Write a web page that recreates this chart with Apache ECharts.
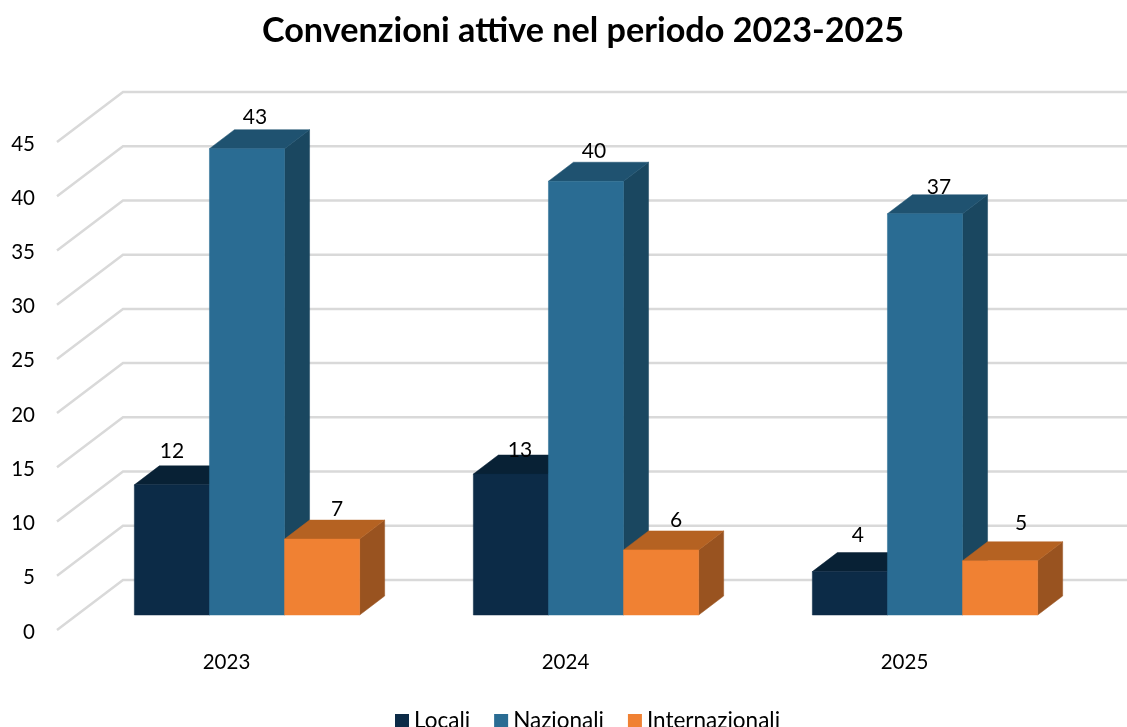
<!DOCTYPE html>
<html>
<head>
<meta charset="utf-8">
<style>html,body{margin:0;padding:0;background:#fff}#chart{width:1127px;height:727px}</style>
<script src="https://cdn.jsdelivr.net/npm/echarts@6/dist/echarts.min.js"></script>
</head>
<body>
<div id="chart"></div>
<script>
// Active agreements per year
const years = ['2023', '2024', '2025'];
const locali = [12, 13, 4];
const nazionali = [43, 40, 37];
const internazionali = [7, 6, 5];
const valueTicks = [0, 5, 10, 15, 20, 25, 30, 35, 40, 45];

// Hand-placed data labels: shift from the centre of each bar's front-top edge
const labelShiftLocali = [[0, -34], [9, -24], [8, -36]];
const labelShiftNazionali = [[8, -31], [8, -30], [14, -27]];
const labelShiftInternazionali = [[15, -30], [15, -30], [21, -38]];

// Oblique projection of the 3D box
const WALL_DX = 66, WALL_DY = -50;   // floor depth, front edge to back wall
const BAR_INSET_X = 20.5, BAR_INSET_Y = -15; // where the bars' front faces stand
const BAR_DX = 25, BAR_DY = -19;     // depth of a bar
const BAR_W = 75.1;
const FONT = 'Lato, Carlito, sans-serif';

function barRenderer(seriesIdx, faces, shifts) {
  return function (params, api) {
    const cat = api.value(0), val = api.value(1);
    const top = api.coord([cat, val]);
    const base = api.coord([cat, 0]);
    const x = top[0] + BAR_INSET_X + (seriesIdx - 1.5) * BAR_W;
    const yT = top[1] + BAR_INSET_Y;
    const yB = base[1] + BAR_INSET_Y;
    const xR = x + BAR_W;
    const poly = (pts, fill) => ({
      type: 'polygon',
      shape: { points: pts },
      style: { fill: fill, stroke: fill, lineWidth: 0.5 }
    });
    const s = shifts[cat];
    return {
      type: 'group',
      children: [
        poly([[xR, yB], [xR + BAR_DX, yB + BAR_DY], [xR + BAR_DX, yT + BAR_DY], [xR, yT]], faces.side),
        poly([[x, yT], [x + BAR_DX, yT + BAR_DY], [xR + BAR_DX, yT + BAR_DY], [xR, yT]], faces.top),
        poly([[x, yB], [xR, yB], [xR, yT], [x, yT]], faces.front),
        {
          type: 'text',
          z2: 50,
          style: {
            text: String(val),
            x: x + BAR_W / 2 + s[0],
            y: yT + s[1],
            fill: '#000',
            font: '21px ' + FONT,
            align: 'center',
            verticalAlign: 'middle'
          }
        }
      ]
    };
  };
}

function wallRenderer(params, api) {
  const tick = api.value(0);
  const band = api.size([1, 0])[0];
  const p = api.coord([0, tick]);
  const x0 = p[0] - band / 2;
  const y0 = p[1];
  return {
    type: 'polyline',
    shape: {
      points: [
        [x0, y0],
        [x0 + WALL_DX, y0 + WALL_DY],
        [x0 + band * years.length + WALL_DX, y0 + WALL_DY]
      ]
    },
    style: { fill: null, stroke: '#D9D9D9', lineWidth: 2.5 }
  };
}

const seriesDefs = [
  { name: 'Locali', data: locali, shifts: labelShiftLocali,
    faces: { front: '#0C2B47', top: '#082135', side: '#08202F' } },
  { name: 'Nazionali', data: nazionali, shifts: labelShiftNazionali,
    faces: { front: '#2A6C93', top: '#1F5270', side: '#1A4760' } },
  { name: 'Internazionali', data: internazionali, shifts: labelShiftInternazionali,
    faces: { front: '#F08133', top: '#B56222', side: '#995320' } }
];

const chart = echarts.init(document.getElementById('chart'), null, { renderer: 'canvas' });
chart.setOption({
  animation: false,
  backgroundColor: '#fff',
  title: {
    text: 'Convenzioni attive nel periodo 2023-2025',
    left: 578,
    top: 9,
    textAlign: 'center',
    textStyle: { fontFamily: FONT, fontWeight: 'bold', fontSize: 34.2, color: '#000' }
  },
  legend: {
    data: seriesDefs.map(s => s.name),
    left: 395,
    top: 709.5,
    icon: 'rect',
    itemWidth: 14,
    itemHeight: 14,
    itemGap: 24,
    padding: 0,
    textStyle: { fontFamily: FONT, fontSize: 22.5, color: '#000', padding: [0, 0, 0, 0] }
  },
  grid: { left: 57, right: 53, top: 142, bottom: 97 },
  xAxis: {
    type: 'category',
    data: years,
    axisLine: { show: false },
    axisTick: { show: false },
    axisLabel: { fontFamily: FONT, fontSize: 20.5, color: '#000', margin: 22 }
  },
  yAxis: {
    type: 'value',
    min: 0,
    max: 45,
    interval: 5,
    splitLine: { show: false },
    axisLine: { show: false },
    axisTick: { show: false },
    axisLabel: {
      margin: 22,
      verticalAlignMinLabel: 'middle',
      verticalAlignMaxLabel: 'middle',
      formatter: '{v|{value}}',
      rich: {
        v: { fontFamily: FONT, fontSize: 20.5, color: '#000', padding: [4, 0, 0, 0] }
      }
    }
  },
  series: [
    {
      name: 'griglia',
      type: 'custom',
      silent: true,
      z: 1,
      renderItem: wallRenderer,
      encode: { y: 0 },
      data: valueTicks.map(v => [v])
    }
  ].concat(seriesDefs.map((s, i) => ({
    name: s.name,
    type: 'custom',
    z: 2 + i,
    itemStyle: { color: s.faces.front },
    renderItem: barRenderer(i, s.faces, s.shifts),
    encode: { x: 0, y: 1 },
    data: s.data.map((v, c) => [c, v])
  })))
});
</script>
</body>
</html>
